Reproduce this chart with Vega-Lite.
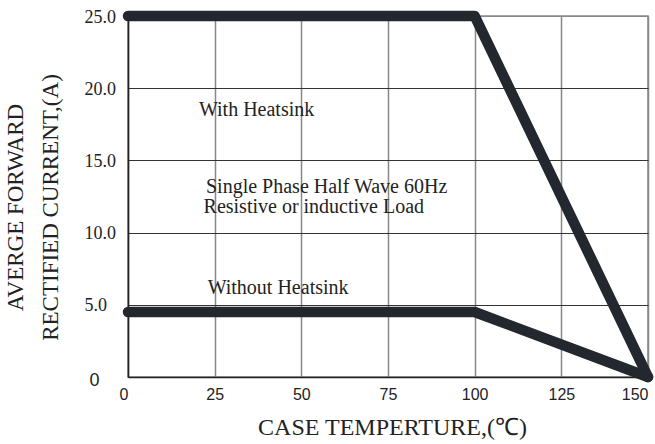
{
  "$schema": "https://vega.github.io/schema/vega-lite/v6.json",
  "width": 520,
  "height": 361,
  "autosize": {"type": "none"},
  "padding": {"left": 128, "top": 16, "right": 7, "bottom": 67},
  "background": "white",
  "config": {"view": {"stroke": "#888", "strokeWidth": 1.5}},
  "layer": [
    {
      "data": {"values": [
        {"series": "with", "temp": 0, "current": 25},
        {"series": "with", "temp": 100, "current": 25},
        {"series": "with", "temp": 150, "current": 0},
        {"series": "without", "temp": 0, "current": 4.5},
        {"series": "without", "temp": 100, "current": 4.5},
        {"series": "without", "temp": 150, "current": 0}
      ]},
      "mark": {"type": "line", "strokeWidth": 10.5, "strokeCap": "round", "strokeJoin": "round", "color": "#23282e", "clip": false},
      "encoding": {
        "x": {
          "field": "temp", "type": "quantitative",
          "scale": {"domain": [0, 150], "nice": false, "zero": false},
          "axis": {
            "values": [0, 25, 50, 75, 100, 125, 150],
            "grid": true, "gridColor": "#888", "gridWidth": 1.5,
            "domainColor": "#222", "domainWidth": 1.5, "ticks": false,
            "labelFont": "Liberation Sans", "labelFontSize": 16, "labelColor": "#222",
            "labelPadding": 9, "labelFlush": false, "labelOverlap": false,
            "labelAlign": {"condition": {"test": "datum.value == 0 || datum.value == 150", "value": "right"}, "value": "center"},
            "title": "CASE TEMPERTURE,(℃)",
            "titleFont": "Liberation Serif", "titleFontSize": 24, "titleFontWeight": "normal", "titleColor": "#222",
            "titleX": 264, "titleY": 57, "titleAlign": "center", "titleBaseline": "alphabetic"
          }
        },
        "y": {
          "field": "current", "type": "quantitative",
          "scale": {"domain": [0, 25], "nice": false},
          "axis": {
            "values": [0, 5, 10, 15, 20, 25],
            "grid": true,
            "gridColor": {"condition": {"test": "datum.value == 25", "value": "#888"}, "value": "#333"},
            "gridWidth": 1,
            "domainColor": "#222", "domainWidth": 1.5, "ticks": false,
            "labelExpr": "datum.value == 0 ? '0' : format(datum.value, '.1f')",
            "labelFont": {"condition": {"test": "datum.value == 0", "value": "Liberation Sans"}, "value": "Liberation Serif"},
            "labelFontSize": 18, "labelColor": "#222", "labelAlign": "left",
            "labelPadding": {"condition": {"test": "datum.value == 0", "value": 39}, "value": 44},
            "labelOffset": {"condition": {"test": "datum.value == 0", "value": 3}, "value": 1},
            "title": ["AVERGE FORWARD", "RECTIFIED CURRENT,(A)"],
            "titleFont": "Liberation Serif", "titleFontSize": 23, "titleFontWeight": "normal", "titleColor": "#222",
            "titleLineHeight": 35, "titleAngle": 270,
            "titleX": -113, "titleY": 191, "titleAlign": "center", "titleBaseline": "middle"
          }
        },
        "detail": {"field": "series"}
      }
    },
    {
      "data": {"values": [
        {"temp": 37.1, "current": 18.5, "label": "With Heatsink"},
        {"temp": 57.3, "current": 13.16, "label": "Single Phase Half Wave 60Hz"},
        {"temp": 53.6, "current": 11.77, "label": "Resistive or inductive Load"},
        {"temp": 43.3, "current": 6.16, "label": "Without Heatsink"}
      ]},
      "mark": {"type": "text", "font": "Liberation Serif", "fontSize": 20, "color": "#222", "align": "center", "baseline": "middle"},
      "encoding": {
        "x": {"field": "temp", "type": "quantitative"},
        "y": {"field": "current", "type": "quantitative"},
        "text": {"field": "label"}
      }
    }
  ]
}
